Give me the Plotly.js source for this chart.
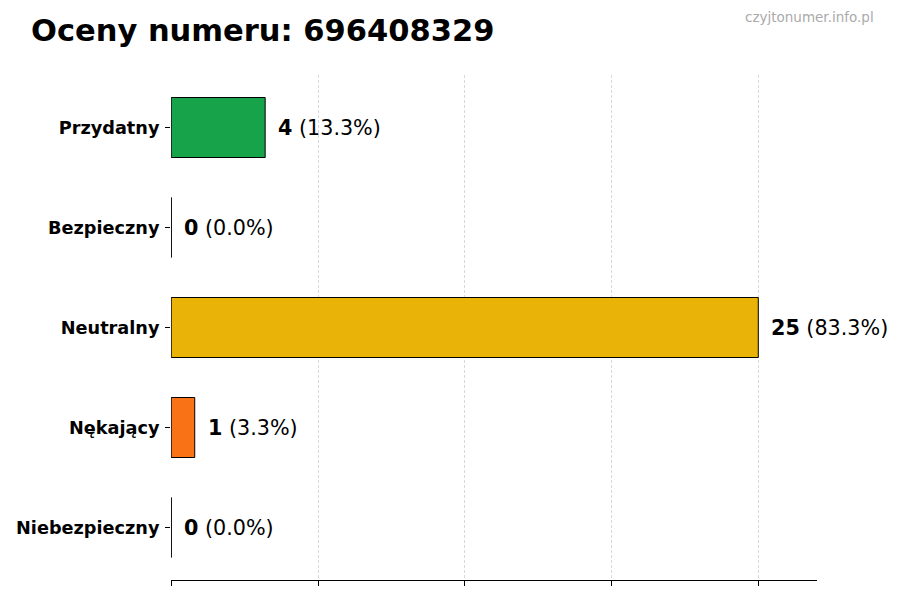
<!DOCTYPE html>
<html>
<head>
<meta charset="utf-8">
<script src="https://cdn.plot.ly/plotly-3.0.1.min.js"></script>
<style>html,body{margin:0;padding:0;background:#fff;}#chart{width:900px;height:600px;}</style>
</head>
<body>
<div id="chart"></div>
<script>
const categories = ["Przydatny", "Bezpieczny", "Neutralny", "Nękający", "Niebezpieczny"];
const counts = [4, 0, 25, 1, 0];
const percents = [13.3, 0.0, 83.3, 3.3, 0.0];
const barColors = ["#16a34a", "#2563eb", "#eab308", "#f97316", "#dc2626"];
const xTicks = [0, 6.25, 12.5, 18.75, 25];
const titleText = "Oceny numeru: 696408329";
const watermark = "czyjtonumer.info.pl";

const font = "DejaVu Sans, sans-serif";

const trace = {
  type: "bar",
  orientation: "h",
  y: categories,
  x: counts,
  width: 0.6,
  marker: { color: barColors, line: { color: "#000", width: 1 } },
  hoverinfo: "none"
};

const annotations = categories.map((c, i) => ({
  x: counts[i], y: c, xref: "x", yref: "y",
  text: "<b>" + counts[i] + "</b> (" + percents[i].toFixed(1) + "%)",
  showarrow: false, xanchor: "left", yanchor: "middle", xshift: 11,
  font: { family: font, size: 20.7, color: "#000" }
}));

const layout = {
  width: 900, height: 600,
  margin: { l: 171, r: 83, t: 75, b: 20 },
  paper_bgcolor: "#fff", plot_bgcolor: "#fff",
  showlegend: false,
  title: {
    text: "<b>" + titleText + "</b>",
    xref: "container", yref: "container",
    x: 31 / 900, xanchor: "left",
    y: 1 - 30 / 600, yanchor: "middle",
    font: { family: font, size: 30.5, color: "#000" }
  },
  xaxis: {
    range: [-0.01, 27.5],
    tickvals: xTicks,
    showticklabels: false,
    ticks: "outside", ticklen: 5, tickcolor: "#000", tickwidth: 1,
    showline: true, linecolor: "#000", linewidth: 1,
    showgrid: true, gridcolor: "#d9d9d9", griddash: "3px,2px", gridwidth: 1,
    zeroline: false, fixedrange: true
  },
  yaxis: {
    type: "category",
    categoryorder: "array", categoryarray: categories,
    range: [4.525, -0.525],
    ticks: "outside", ticklen: 5, tickcolor: "#000", tickwidth: 1,
    showline: false, showgrid: false, zeroline: false,
    tickfont: { family: font, size: 17.7, color: "#000", weight: "bold" },
    ticklabelstandoff: 2,
    fixedrange: true
  },
  annotations: annotations
};

Plotly.newPlot("chart", [trace], layout, { displayModeBar: false, staticPlot: true }).then(gd => {
  // watermark text placed in container coordinates
  Plotly.relayout(gd, {
    annotations: annotations.concat([{
      xref: "paper", yref: "paper",
      x: (876 - 171) / (900 - 171 - 83), y: 1 + (75 - 17) / (600 - 75 - 20),
      text: watermark, showarrow: false, xanchor: "right", yanchor: "middle",
      font: { family: font, size: 13.5, color: "#aaaaaa" }
    }])
  });
});
</script>
</body>
</html>
